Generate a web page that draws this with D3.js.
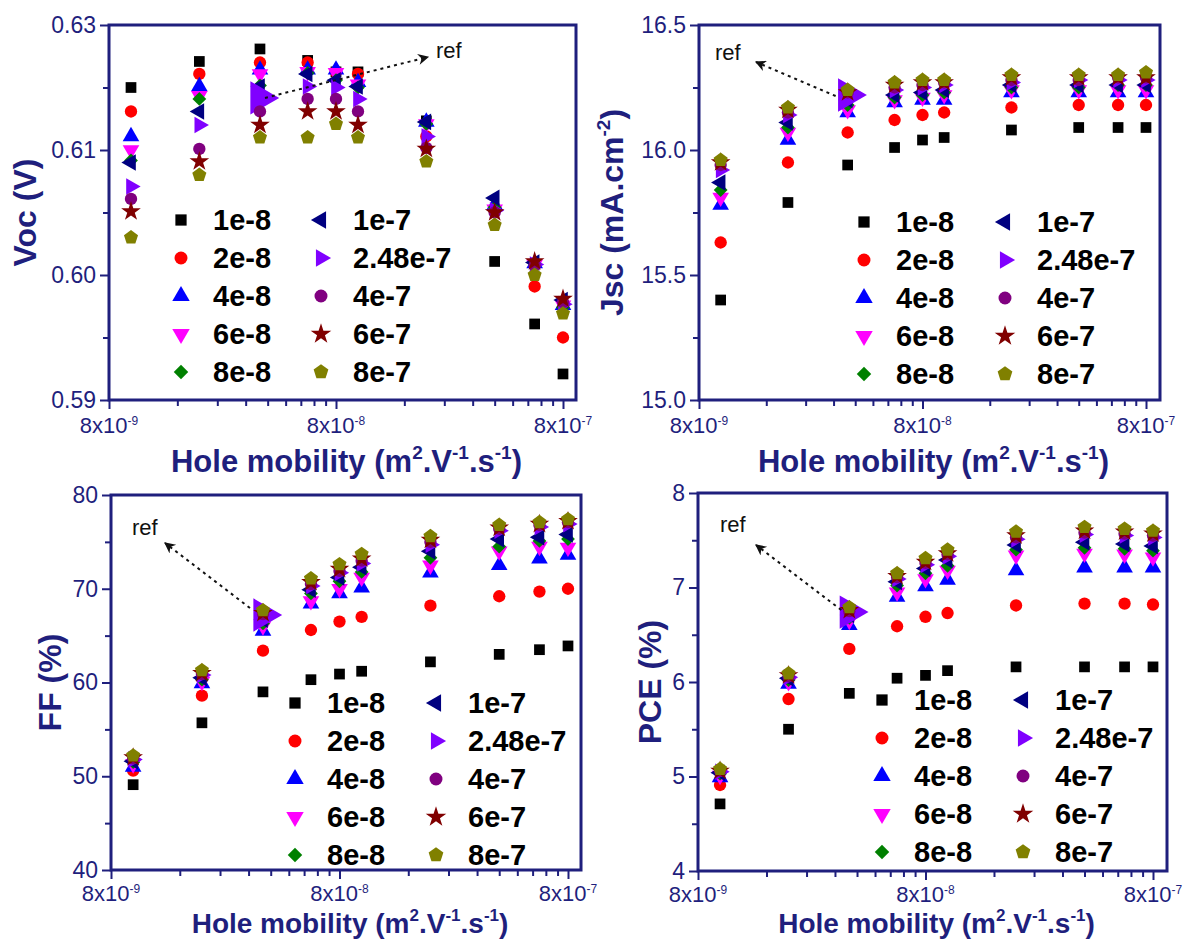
<!DOCTYPE html>
<html>
<head>
<meta charset="utf-8">
<script src="https://cdn.jsdelivr.net/npm/d3@7"></script>
<style>
  body { margin: 0; background: #fff; }
  svg { display: block; font-family: "Liberation Sans", Arial, sans-serif; }
</style>
</head>
<body>
<svg id="chart" width="1189" height="940"></svg>
<script>
// Data
const holeMobility = [1e-8, 2e-8, 3.7e-8, 6e-8, 8e-8, 1e-7, 2e-7, 4e-7, 6e-7, 8e-7];
const seriesNames = ['1e-8', '2e-8', '4e-8', '6e-8', '8e-8', '1e-7', '2.48e-7', '4e-7', '6e-7', '8e-7'];
const seriesColors = ['#000000', '#ff0000', '#0000ff', '#ff00ff', '#008000', '#000080', '#8000ff', '#800080', '#800000', '#808000'];

const xTicks = [8e-9, 8e-8, 8e-7];
const xTickExponents = ['-9', '-8', '-7'];

const vocValues = [
  [0.6205, 0.6230, 0.6242, 0.6231, 0.6220, 0.6220, 0.6173, 0.6038, 0.5978, 0.5930],
  [0.6182, 0.6218, 0.6229, 0.6229, 0.6220, 0.6218, 0.6158, 0.6087, 0.6014, 0.5965],
  [0.6158, 0.6206, 0.6222, 0.6222, 0.6222, 0.6210, 0.6172, 0.6092, 0.6036, 0.5996],
  [0.6145, 0.6197, 0.6218, 0.6220, 0.6219, 0.6208, 0.6170, 0.6088, 0.6035, 0.5996],
  [0.6135, 0.6194, 0.6207, 0.6219, 0.6212, 0.6205, 0.6170, 0.6090, 0.6036, 0.5994],
  [0.6133, 0.6182, 0.6206, 0.6218, 0.6212, 0.6206, 0.6172, 0.6099, 0.6037, 0.6001],
  [0.6110, 0.6169, 0.6195, 0.6206, 0.6205, 0.6194, 0.6158, 0.6087, 0.6035, 0.5997],
  [0.6098, 0.6146, 0.6182, 0.6194, 0.6194, 0.6182, 0.6147, 0.6085, 0.6034, 0.5999],
  [0.6086, 0.6134, 0.6169, 0.6182, 0.6182, 0.6169, 0.6146, 0.6085, 0.6038, 0.6002],
  [0.6061, 0.6121, 0.6157, 0.6157, 0.6170, 0.6157, 0.6134, 0.6073, 0.6025, 0.5988]
];
const jscValues = [
  [15.40, 15.79, 15.94, 16.01, 16.04, 16.05, 16.08, 16.09, 16.09, 16.09],
  [15.63, 15.95, 16.07, 16.12, 16.14, 16.15, 16.17, 16.18, 16.18, 16.18],
  [15.78, 16.04, 16.15, 16.19, 16.20, 16.20, 16.23, 16.23, 16.23, 16.23],
  [15.81, 16.07, 16.16, 16.20, 16.21, 16.22, 16.24, 16.24, 16.24, 16.24],
  [15.84, 16.09, 16.18, 16.21, 16.22, 16.23, 16.25, 16.25, 16.26, 16.26],
  [15.87, 16.11, 16.20, 16.22, 16.23, 16.24, 16.26, 16.26, 16.26, 16.26],
  [15.92, 16.14, 16.22, 16.24, 16.25, 16.26, 16.27, 16.28, 16.28, 16.28],
  [15.94, 16.15, 16.23, 16.25, 16.26, 16.27, 16.28, 16.28, 16.29, 16.29],
  [15.95, 16.16, 16.23, 16.26, 16.27, 16.27, 16.29, 16.29, 16.29, 16.29],
  [15.96, 16.17, 16.24, 16.27, 16.28, 16.28, 16.30, 16.30, 16.30, 16.31]
];
const ffValues = [
  [49.1, 55.7, 59.0, 60.3, 60.9, 61.2, 62.2, 63.0, 63.5, 63.9],
  [50.6, 58.6, 63.4, 65.6, 66.5, 67.0, 68.2, 69.2, 69.7, 70.0],
  [51.0, 59.9, 65.5, 68.4, 69.5, 70.1, 71.7, 72.5, 73.2, 73.6],
  [51.3, 60.1, 66.0, 68.7, 70.0, 71.2, 72.5, 74.0, 74.5, 74.4],
  [51.5, 60.3, 66.3, 69.5, 70.8, 71.8, 73.3, 74.5, 75.1, 75.3],
  [51.6, 60.5, 66.7, 69.9, 71.2, 72.3, 74.0, 75.3, 75.5, 75.8],
  [51.8, 60.8, 67.2, 70.3, 71.7, 72.7, 74.7, 76.2, 76.6, 76.9],
  [51.9, 60.9, 67.3, 70.5, 71.9, 73.0, 75.0, 76.4, 76.8, 77.1],
  [52.0, 61.0, 67.4, 70.7, 72.1, 73.2, 75.2, 76.5, 76.9, 77.2],
  [52.2, 61.3, 67.7, 71.1, 72.6, 73.7, 75.6, 76.8, 77.1, 77.4]
];
const pceValues = [
  [4.71, 5.50, 5.88, 6.04, 6.07, 6.12, 6.16, 6.16, 6.16, 6.16],
  [4.91, 5.82, 6.35, 6.59, 6.69, 6.73, 6.81, 6.83, 6.83, 6.82],
  [4.99, 5.98, 6.60, 6.90, 7.01, 7.08, 7.18, 7.21, 7.21, 7.21],
  [5.01, 6.00, 6.65, 6.95, 7.09, 7.18, 7.34, 7.36, 7.35, 7.32],
  [5.03, 6.02, 6.68, 7.02, 7.15, 7.23, 7.40, 7.42, 7.41, 7.39],
  [5.04, 6.04, 6.71, 7.06, 7.20, 7.29, 7.45, 7.48, 7.46, 7.44],
  [5.05, 6.05, 6.74, 7.09, 7.24, 7.33, 7.51, 7.56, 7.55, 7.53],
  [5.06, 6.06, 6.75, 7.11, 7.26, 7.35, 7.53, 7.58, 7.57, 7.55],
  [5.06, 6.07, 6.76, 7.12, 7.27, 7.36, 7.55, 7.60, 7.59, 7.57],
  [5.08, 6.09, 6.79, 7.15, 7.31, 7.40, 7.59, 7.64, 7.62, 7.60]
];

const vocTicks = [0.5905, 0.6025, 0.6145, 0.6265];
const vocMinor = [0.5965, 0.6085, 0.6205];
const jscTicks = [15.0, 15.5, 16.0, 16.5];
const jscMinor = [15.25, 15.75, 16.25];
const ffTicks = [40, 50, 60, 70, 80];
const ffMinor = [45, 55, 65, 75];
const pceTicks = [4, 5, 6, 7, 8];
const pceMinor = [4.5, 5.5, 6.5, 7.5];

// the reference point (2.48e-7 series, third mobility)
const refSeries = 6;
const refIndex = 2;

const navy = '#1f1f7d';
const svg = d3.select('#chart');

// Arrow head marker
svg.append('defs').append('marker')
  .attr('id', 'arrow')
  .attr('viewBox', '0 0 10 10')
  .attr('refX', 9).attr('refY', 5)
  .attr('markerWidth', 13).attr('markerHeight', 11)
  .attr('markerUnits', 'userSpaceOnUse')
  .attr('orient', 'auto')
  .append('path')
  .attr('d', 'M0,0 L10,5 L0,10 L3,5 Z')
  .attr('fill', '#111');

// Marker shapes
const symbolPentagon = {
  draw(context, size) {
    const r = Math.sqrt(size / 2.378);
    for (let i = 0; i < 5; i++) {
      const a = -Math.PI / 2 + i * 2 * Math.PI / 5;
      if (i === 0) context.moveTo(r * Math.cos(a), r * Math.sin(a));
      else context.lineTo(r * Math.cos(a), r * Math.sin(a));
    }
    context.closePath();
  }
};
const markerShapes = [
  { type: d3.symbolSquare, rot: 0, size: 115 },
  { type: d3.symbolCircle, rot: 0, size: 120 },
  { type: d3.symbolTriangle, rot: 0, size: 120 },
  { type: d3.symbolTriangle, rot: 180, size: 120 },
  { type: d3.symbolSquare, rot: 45, size: 95 },
  { type: d3.symbolTriangle, rot: -90, size: 120 },
  { type: d3.symbolTriangle, rot: 90, size: 120 },
  { type: d3.symbolCircle, rot: 0, size: 120 },
  { type: d3.symbolStar, rot: 0, size: 120 },
  { type: symbolPentagon, rot: 0, size: 130 }
];

function drawMarker(g, i, x, y, scale) {
  const s = markerShapes[i];
  g.append('path')
    .attr('d', d3.symbol().type(s.type).size(s.size * (scale || 1))())
    .attr('transform', `translate(${x},${y}) rotate(${s.rot})`)
    .attr('fill', seriesColors[i]);
}

// Panels
const panels = [
  { values: vocValues, ticks: vocTicks, minor: vocMinor, fmt: d3.format('.2f'),
    title: [['Voc (V)', 0]], left: 109, top: 25, w: 467, h: 375, span: 454, titleX: -73,
    legend: { x1: 72, x2: 212, y0: 195 }, arrowTip: [319, 32], arrowOff: [5, 0], refText: [327, 33],
    xLabelDy: 33, xTitleDy: 72, xTitleSize: 31 },
  { values: jscValues, ticks: jscTicks, minor: jscMinor, fmt: d3.format('.1f'),
    title: [['Jsc (mA.cm', 0], ['-2', 1], [')', 0]], left: 699, top: 25, w: 461, h: 375, span: 447, titleX: -76,
    legend: { x1: 165, x2: 306, y0: 197 }, arrowTip: [57, 37], arrowOff: [-12, 1], refText: [16, 35],
    xLabelDy: 33, xTitleDy: 72, xTitleSize: 31 },
  { values: ffValues, ticks: ffTicks, minor: ffMinor, fmt: d3.format('d'),
    title: [['FF (%)', 0]], left: 111, top: 495, w: 470, h: 375, span: 457, titleX: -50,
    legend: { x1: 184, x2: 325, y0: 208 }, arrowTip: [54, 48], arrowOff: [-13, -7], refText: [21, 40],
    xLabelDy: 31, xTitleDy: 63, xTitleSize: 28 },
  { values: pceValues, ticks: pceTicks, minor: pceMinor, fmt: d3.format('d'),
    title: [['PCE (%)', 0]], left: 698, top: 493, w: 469, h: 378, span: 455, titleX: -37,
    legend: { x1: 184, x2: 325, y0: 207 }, arrowTip: [58, 52], arrowOff: [-8, -2], refText: [22, 39],
    xLabelDy: 31, xTitleDy: 62, xTitleSize: 28 }
];

// write text with superscript parts
function addParts(text, parts, size, supRatio, shiftRatio) {
  const supSize = Math.round(size * (supRatio || 0.6));
  const shift = Math.round(size * (shiftRatio || 0.42));
  let up = false;
  parts.forEach(([str, sup]) => {
    const t = text.append('tspan').text(str);
    if (sup) {
      t.attr('font-size', supSize).attr('dy', -shift);
      up = true;
    } else {
      t.attr('font-size', size);
      if (up) { t.attr('dy', shift); up = false; }
    }
  });
}

panels.forEach(p => {
  const g = svg.append('g').attr('transform', `translate(${p.left},${p.top})`);

  const x = d3.scaleLog().domain([xTicks[0], xTicks[2]]).range([0, p.span]);
  const y = d3.scaleLinear().domain([p.ticks[0], p.ticks[p.ticks.length - 1]]).range([p.h, 0]);

  // Minor x ticks
  const xMinor = [];
  [8e-9, 8e-8].forEach(m => { for (let k = 2; k <= 9; k++) xMinor.push(m * k); });

  const yAxis = g.append('g')
    .call(d3.axisLeft(y).tickValues(p.ticks).tickFormat(p.fmt).tickSize(9).tickPadding(4));
  const yMinorAxis = g.append('g')
    .call(d3.axisLeft(y).tickValues(p.minor).tickFormat('').tickSize(6));
  const xAxis = g.append('g').attr('transform', `translate(0,${p.h})`)
    .call(d3.axisBottom(x).tickValues(xTicks).tickFormat('').tickSize(9));
  const xMinorAxis = g.append('g').attr('transform', `translate(0,${p.h})`)
    .call(d3.axisBottom(x).tickValues(xMinor).tickFormat('').tickSize(6));

  [yAxis, yMinorAxis, xAxis, xMinorAxis].forEach(a => {
    a.select('.domain').remove();
    a.selectAll('line').attr('stroke', navy).attr('stroke-width', 2);
  });
  yAxis.selectAll('text')
    .attr('fill', navy)
    .attr('font-size', 23)
    .attr('font-family', '"Liberation Sans", Arial, sans-serif');

  // x tick labels 8x10^n
  xTicks.forEach((t, i) => {
    const txt = g.append('text')
      .attr('x', x(t))
      .attr('y', p.h + p.xLabelDy)
      .attr('text-anchor', 'middle')
      .attr('fill', navy);
    addParts(txt, [['8x10', 0], [xTickExponents[i], 1]], 22, 0.55, 0.36);
  });

  // frame
  g.append('rect')
    .attr('width', p.w).attr('height', p.h)
    .attr('fill', 'none').attr('stroke', navy).attr('stroke-width', 3);

  // axis titles
  const xt = g.append('text')
    .attr('x', p.w / 2 + 4)
    .attr('y', p.h + p.xTitleDy)
    .attr('text-anchor', 'middle')
    .attr('font-weight', 'bold')
    .attr('fill', navy);
  addParts(xt, [['Hole mobility (m', 0], ['2', 1], ['.V', 0], ['-1', 1], ['.s', 0], ['-1', 1], [')', 0]], p.xTitleSize);

  const yt = g.append('text')
    .attr('transform', `translate(${p.titleX},${p.h / 2}) rotate(-90)`)
    .attr('text-anchor', 'middle')
    .attr('font-weight', 'bold')
    .attr('fill', navy);
  addParts(yt, p.title, 32);

  // scatter points
  const pts = g.append('g');
  p.values.forEach((series, si) => {
    series.forEach((v, j) => {
      const big = si === refSeries && j === refIndex;
      drawMarker(pts, si, x(holeMobility[j]), y(v), big ? 4 : 1);
    });
  });

  // ref annotation
  const rx = x(holeMobility[refIndex]) + p.arrowOff[0];
  const ry = y(p.values[refSeries][refIndex]) + p.arrowOff[1];
  g.append('line')
    .attr('x1', rx).attr('y1', ry)
    .attr('x2', p.arrowTip[0]).attr('y2', p.arrowTip[1])
    .attr('stroke', '#111').attr('stroke-width', 2)
    .attr('stroke-dasharray', '3,4')
    .attr('marker-end', 'url(#arrow)');
  g.append('text')
    .attr('x', p.refText[0]).attr('y', p.refText[1])
    .attr('font-size', 22).attr('fill', '#111')
    .text('ref');

  // legend
  const lg = g.append('g');
  seriesNames.forEach((name, i) => {
    const col = Math.floor(i / 5);
    const row = i % 5;
    const mx = col === 0 ? p.legend.x1 : p.legend.x2;
    const my = p.legend.y0 + row * 38;
    drawMarker(lg, i, mx, my, 1.1);
    lg.append('text')
      .attr('x', mx + 32)
      .attr('y', my + 10)
      .attr('font-size', 29)
      .attr('font-weight', 'bold')
      .attr('fill', '#000')
      .text(name);
  });
});
</script>
</body>
</html>
